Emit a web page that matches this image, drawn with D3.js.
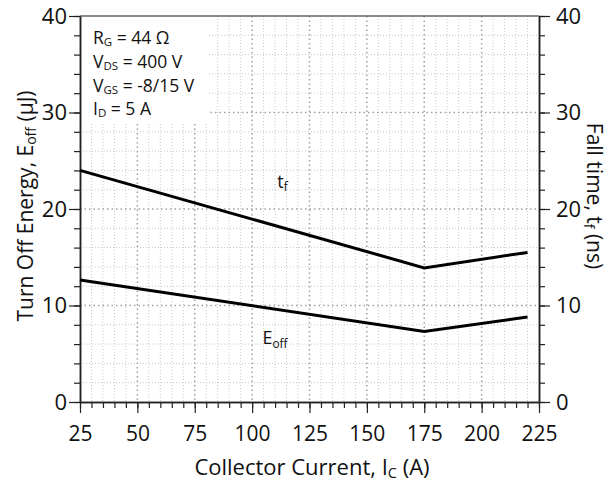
<!DOCTYPE html>
<html>
<head>
<meta charset="utf-8">
<script src="https://cdn.jsdelivr.net/npm/d3@7"></script>
<style>
  body { margin: 0; background: #fff; }
  svg { display: block; font-family: "Open Sans", sans-serif; }
</style>
</head>
<body>
<div id="chart"></div>
<script>
// data
const current = [25, 175, 220];
const fallTime = [24.0, 13.9, 15.5];
const turnOffEnergy = [12.65, 7.3, 8.8];

const xTicks = [25, 50, 75, 100, 125, 150, 175, 200, 225];
const yTicks = [0, 10, 20, 30, 40];

const conditions = [
  ["R", "G", " = 44 Ω"],
  ["V", "DS", " = 400 V"],
  ["V", "GS", " = -8/15 V"],
  ["I", "D", " = 5 A"]
];

const W = 616, H = 485;
const margin = {top: 16, right: 77, bottom: 83, left: 80},
    width = W - margin.left - margin.right,
    height = H - margin.top - margin.bottom;

const svg = d3.select("#chart")
  .append("svg")
    .attr("width", W)
    .attr("height", H);

const g = svg.append("g")
    .attr("transform", `translate(${margin.left},${margin.top})`);

const x = d3.scaleLinear().domain([25, 225]).range([0, width]);
const y = d3.scaleLinear().domain([0, 40]).range([height, 0]);

// minor grid
const xMinor = d3.range(25, 226, 5);
const yMinor = d3.range(0, 41, 2);

g.append("g").selectAll("line")
  .data(xMinor.filter(v => v % 25 !== 0))
  .join("line")
    .attr("x1", d => x(d)).attr("x2", d => x(d))
    .attr("y1", 0).attr("y2", height)
    .attr("stroke", "#c8c8c8").attr("stroke-width", 1)
    .attr("stroke-dasharray", "1,2");
g.append("g").selectAll("line")
  .data(yMinor.filter(v => v % 10 !== 0))
  .join("line")
    .attr("x1", 0).attr("x2", width)
    .attr("y1", d => y(d)).attr("y2", d => y(d))
    .attr("stroke", "#c8c8c8").attr("stroke-width", 1)
    .attr("stroke-dasharray", "1,2");

// major grid
g.append("g").selectAll("line")
  .data(xTicks.slice(1, -1))
  .join("line")
    .attr("x1", d => x(d)).attr("x2", d => x(d))
    .attr("y1", 0).attr("y2", height)
    .attr("stroke", "#a0a0a0").attr("stroke-width", 1.5)
    .attr("stroke-dasharray", "1.5,3");
g.append("g").selectAll("line")
  .data(yTicks.slice(1, -1))
  .join("line")
    .attr("x1", 0).attr("x2", width)
    .attr("y1", d => y(d)).attr("y2", d => y(d))
    .attr("stroke", "#a0a0a0").attr("stroke-width", 1.5)
    .attr("stroke-dasharray", "1.5,3");

// white box behind conditions text
g.append("rect")
  .attr("x", 0).attr("y", 0)
  .attr("width", 128).attr("height", 108)
  .attr("fill", "#fff");

// frame
g.append("line").attr("x1", 0).attr("x2", width).attr("y1", 0).attr("y2", 0)
  .attr("stroke", "#666").attr("stroke-width", 1.5);

// axes
const axisStyle = sel => {
  sel.select(".domain").attr("stroke", "#222").attr("stroke-width", 1.5);
  sel.selectAll(".tick line").attr("stroke", "#222").attr("stroke-width", 1.2);
  sel.selectAll("text").attr("font-family", "Open Sans, sans-serif").attr("fill", "#111");
};

// minor ticks first
g.append("g")
  .attr("transform", `translate(0,${height})`)
  .call(d3.axisBottom(x).tickValues(xMinor).tickSize(6).tickFormat("").tickSizeOuter(0))
  .call(axisStyle);
g.append("g")
  .call(d3.axisLeft(y).tickValues(yMinor).tickSize(6).tickFormat("").tickSizeOuter(0))
  .call(axisStyle);
g.append("g")
  .attr("transform", `translate(${width},0)`)
  .call(d3.axisRight(y).tickValues(yMinor).tickSize(6).tickFormat("").tickSizeOuter(0))
  .call(axisStyle);

// major ticks with labels
g.append("g")
  .attr("transform", `translate(0,${height})`)
  .call(d3.axisBottom(x).tickValues(xTicks).tickSize(11).tickPadding(13).tickSizeOuter(0))
  .call(axisStyle)
  .selectAll("text").attr("font-size", 21);
g.append("g")
  .call(d3.axisLeft(y).tickValues(yTicks).tickSize(11).tickPadding(2).tickSizeOuter(0))
  .call(axisStyle)
  .selectAll("text").attr("font-size", 22);
g.append("g")
  .attr("transform", `translate(${width},0)`)
  .call(d3.axisRight(y).tickValues(yTicks).tickSize(11).tickPadding(6).tickSizeOuter(0))
  .call(axisStyle)
  .selectAll("text").attr("font-size", 22);

// curves
const line = d3.line().x(d => x(d[0])).y(d => y(d[1]));
[fallTime, turnOffEnergy].forEach(vals => {
  g.append("path")
    .datum(current.map((c, i) => [c, vals[i]]))
    .attr("d", line)
    .attr("fill", "none")
    .attr("stroke", "#000")
    .attr("stroke-width", 3);
});

// curve labels
const subText = (sel, main, sub, size) => {
  sel.append("tspan").text(main);
  sel.append("tspan").attr("font-size", size * 0.66).attr("dy", size * 0.2).text(sub);
};
g.append("text")
  .attr("x", x(111)).attr("y", y(22.2))
  .attr("font-size", 18).attr("fill", "#111")
  .call(subText, "t", "f", 18);
g.append("text")
  .attr("x", x(104.5)).attr("y", y(6.0))
  .attr("font-size", 18).attr("fill", "#111")
  .call(subText, "E", "off", 18);

// operating conditions
conditions.forEach((c, i) => {
  const t = g.append("text")
    .attr("x", 13).attr("y", 28 + i * 23.8)
    .attr("font-size", 17.5).attr("fill", "#111");
  t.append("tspan").text(c[0]);
  t.append("tspan").attr("font-size", 11.5).attr("dy", 2).text(c[1]);
  t.append("tspan").attr("dy", -2).text(c[2]);
});

// axis titles
const xt = svg.append("text")
  .attr("x", 312).attr("y", 475)
  .attr("text-anchor", "middle")
  .attr("font-size", 22).attr("fill", "#111");
xt.append("tspan").text("Collector Current, I");
xt.append("tspan").attr("font-size", 14.5).attr("dy", 3).text("C");
xt.append("tspan").attr("dy", -3).text(" (A)");

const yl = svg.append("text")
  .attr("transform", `translate(33,${margin.top + height / 2 - 3}) rotate(-90)`)
  .attr("text-anchor", "middle")
  .attr("font-size", 21).attr("fill", "#111");
yl.append("tspan").text("Turn Off Energy, E");
yl.append("tspan").attr("font-size", 14).attr("dy", 3).text("off");
yl.append("tspan").attr("dy", -3).text(" (μJ)");

const yr = svg.append("text")
  .attr("transform", `translate(587,${margin.top + height / 2 - 13}) rotate(90)`)
  .attr("text-anchor", "middle")
  .attr("font-size", 21).attr("fill", "#111");
yr.append("tspan").text("Fall time, t");
yr.append("tspan").attr("font-size", 14).attr("dy", 3).text("f");
yr.append("tspan").attr("dy", -3).text(" (ns)");
</script>
</body>
</html>
